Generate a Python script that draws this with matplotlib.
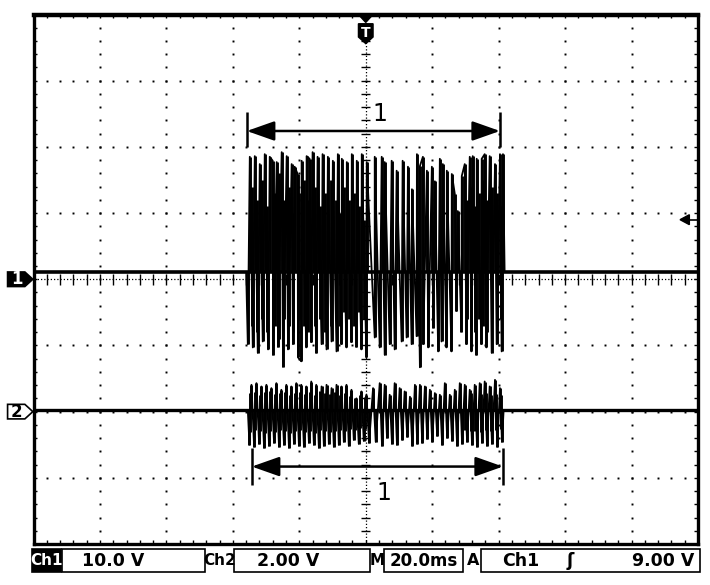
import numpy as np
import matplotlib.pyplot as plt
from matplotlib.patches import Polygon, Rectangle

# scope settings
time_scale = 20.0   # ms/div
ch1_scale = 10.0    # V/div
ch2_scale = 2.0     # V/div
ch1_pos = 0.0       # div
ch2_pos = -2.0      # div
ch1_dc = 1.1        # V
ch2_dc = 0.05       # V
trig_level = 9.0    # V

# ch1 burst, positive spikes (ms, V)
ch1_up_t = [-34.9, -33.4, -31.9, -30.4, -28.9, -28.0, -26.8, -25.3, -23.8, -22.3,
            -21.4, -20.5, -19.3, -17.8, -16.9, -16.0, -14.5, -13.0, -11.4, -9.9,
            -8.4, -7.2, -5.7, -4.2, -2.7, -1.2, 0.3, 2.7, 4.8, 5.7,
            7.8, 9.3, 11.1, 12.7, 13.9, 15.4, 16.3, 17.2, 18.4, 19.9,
            20.8, 22.3, 23.2, 24.4, 25.9, 26.8, 27.7, 28.9, 29.8, 31.3,
            32.2, 33.4, 34.9, 35.8, 37.3, 38.9, 40.4, 41.3]
ch1_up_v = [18.5, 18.6, 17.4, 18.9, 18.5, 17.9, 17.7, 19.2, 18.6, 17.4,
            17.0, 15.9, 17.9, 18.6, 18.2, 19.2, 18.5, 18.9, 18.5, 17.9,
            18.9, 18.2, 17.7, 18.9, 17.9, 18.9, 17.7, 18.5, 18.5, 17.7,
            17.9, 16.4, 17.9, 17.0, 13.6, 18.9, 17.1, 18.5, 16.4, 17.0,
            14.8, 18.2, 17.4, 16.4, 15.9, 12.9, 10.3, 15.6, 17.4, 18.5,
            18.6, 18.2, 18.2, 18.9, 18.6, 17.4, 18.9, 18.9]
# ch1 burst, negative spikes
ch1_dn_t = [-35.5, -34.0, -32.5, -31.0, -29.4, -27.9, -26.4, -24.9, -23.4, -21.9,
            -20.4, -19.4, -17.9, -16.4, -14.9, -13.3, -11.8, -10.3, -8.8, -7.3,
            -5.8, -4.3, -2.8, -1.3, 0.2, 2.7, 4.2, 5.7, 7.2, 8.7,
            10.8, 12.3, 13.8, 15.3, 16.3, 17.3, 18.8, 20.3, 21.8, 22.8,
            24.3, 25.8, 27.3, 28.8, 30.3, 31.8, 33.3, 34.8, 36.3, 37.9,
            39.4, 40.9]
ch1_dn_v = [-9.8, -10.3, -11.1, -9.4, -10.6, -11.4, -10.2, -13.2, -10.6, -9.8,
            -11.8, -12.4, -10.3, -9.5, -11.1, -9.8, -10.6, -9.4, -10.9, -9.8,
            -10.3, -9.5, -10.2, -10.6, -11.8, -8.8, -10.3, -11.4, -9.8, -10.6,
            -9.4, -8.8, -9.8, -8.6, -13.3, -9.8, -10.3, -7.3, -10.9, -9.4,
            -10.3, -10.9, -4.8, -7.9, -9.8, -10.9, -11.4, -9.8, -10.3, -11.1,
            -9.8, -10.9]
# ch1 smaller in-between swings (dense first half and the tail)
ch1_mid_t = [-34.2, -32.6, -31.1, -29.6, -27.4, -26.0, -24.5, -23.0, -21.8, -20.0,
             -18.5, -17.3, -15.2, -13.7, -12.2, -10.6, -9.1, -7.8, -6.4, -5.0,
             -3.4, -2.0, -0.4, 30.6, 31.8, 33.0, 34.2, 35.3, 36.6, 38.1,
             39.6, 40.8]
ch1_mid_hi = [14.0, 12.0, 15.0, 11.0, 13.0, 16.0, 12.0, 14.0, 10.0, 13.0,
              15.0, 12.0, 14.0, 11.0, 13.0, 15.0, 12.0, 10.0, 14.0, 12.0,
              13.0, 11.0, 9.0, 12.0, 14.0, 11.0, 13.0, 15.0, 12.0, 14.0,
              13.0, 11.0]
ch1_mid_lo = [-7.0, -8.0, -6.0, -8.0, -7.0, -9.0, -6.0, -7.0, -8.0, -6.0,
              -7.0, -8.0, -7.0, -6.0, -8.0, -7.0, -6.0, -7.0, -5.0, -6.0,
              -7.0, -5.0, -6.0, -6.0, -7.0, -8.0, -6.0, -7.0, -8.0, -6.0,
              -7.0, -6.0]

# ch2 burst, positive spikes
ch2_up_t = [-34.4, -32.9, -31.4, -29.9, -28.4, -26.9, -25.4, -23.9, -22.4, -20.9,
            -19.4, -17.9, -16.4, -14.9, -13.3, -11.8, -10.3, -8.8, -7.3, -5.8,
            -4.3, -2.8, -1.3, 0.2, 2.2, 4.2, 5.7, 7.2, 8.7, 10.2,
            11.7, 13.3, 14.8, 16.3, 17.8, 19.3, 20.8, 22.3, 23.8, 25.3,
            26.8, 28.3, 29.8, 31.3, 32.8, 34.3, 35.8, 37.3, 38.9, 40.4]
ch2_up_v = [0.81, 0.86, 0.76, 0.81, 0.71, 0.86, 0.66, 0.81, 0.76, 0.86,
            0.81, 0.76, 0.91, 0.81, 0.76, 0.81, 0.71, 0.81, 0.76, 0.81,
            0.66, 0.40, 0.61, 0.51, 0.71, 0.86, 0.81, 0.51, 0.86, 0.71,
            0.61, 0.45, 0.81, 0.81, 0.76, 0.66, 0.56, 0.51, 0.86, 0.51,
            0.66, 0.86, 0.81, 0.66, 0.81, 0.86, 0.91, 0.76, 0.96, 0.71]
# ch2 burst, negative spikes
ch2_dn_t = [-35.0, -33.6, -32.1, -30.6, -29.1, -27.6, -26.1, -24.6, -23.1, -21.6,
            -20.1, -18.6, -17.1, -15.6, -14.1, -12.6, -11.1, -9.6, -8.1, -6.6,
            -5.1, -3.6, -2.1, -0.6, 1.0, 3.0, 4.9, 6.4, 7.9, 9.4,
            11.0, 12.5, 14.0, 15.5, 17.0, 18.5, 20.0, 21.5, 23.0, 24.5,
            26.0, 27.5, 29.0, 30.5, 32.0, 33.5, 35.0, 36.5, 38.0, 39.6,
            41.0]
ch2_dn_v = [-1.00, -1.06, -0.97, -1.09, -1.03, -0.94, -1.06, -1.00, -1.09, -0.97,
            -1.03, -1.06, -0.94, -1.00, -1.09, -1.03, -0.97, -1.06, -1.00, -0.91,
            -1.03, -0.85, -0.97, -0.88, -0.94, -0.91, -1.03, -0.79, -0.97, -1.00,
            -0.85, -0.76, -1.03, -0.97, -0.94, -0.82, -0.91, -0.73, -1.00, -0.79,
            -0.88, -1.03, -0.97, -0.91, -1.00, -1.06, -0.94, -1.03, -0.97, -1.06,
            -0.91]
# ch2 smaller in-between swings
ch2_mid_t = [-34.7, -33.2, -31.8, -30.2, -28.8, -27.2, -25.8, -24.2, -22.8, -21.2,
             -19.8, -18.2, -16.8, -15.2, -13.7, -12.2, -10.7, -9.2, -7.7, -6.2,
             -4.7, -3.2, -1.7, -0.2, 30.0, 31.6, 33.0, 34.6, 36.1, 37.7, 39.2, 40.7]
ch2_mid_hi = [0.55, 0.60, 0.50, 0.58, 0.62, 0.52, 0.57, 0.60, 0.50, 0.56,
              0.60, 0.54, 0.58, 0.50, 0.62, 0.55, 0.52, 0.58, 0.50, 0.55,
              0.48, 0.42, 0.50, 0.45, 0.50, 0.55, 0.58, 0.52, 0.56, 0.50, 0.54, 0.50]
ch2_mid_lo = [-0.62, -0.55, -0.60, -0.66, -0.58, -0.62, -0.55, -0.60, -0.64, -0.58,
              -0.55, -0.62, -0.60, -0.66, -0.56, -0.60, -0.62, -0.58, -0.55, -0.60,
              -0.52, -0.55, -0.50, -0.52, -0.55, -0.60, -0.58, -0.62, -0.55, -0.60,
              -0.56, -0.52]

# cursor 1 (ms)
cursor_top_t = [-35.8, 40.4]
cursor_bot_t = [-34.3, 41.3]


def tx(t):
    return (np.asarray(t, dtype=float) + 5 * time_scale) / time_scale


def y1(v):
    return ch1_pos + np.asarray(v, dtype=float) / ch1_scale


def y2(v):
    return ch2_pos + np.asarray(v, dtype=float) / ch2_scale


def trace(up_t, up_v, dn_t, dn_v, dc):
    # one waveform through every peak, in time order
    pts = sorted(list(zip(up_t, up_v)) + list(zip(dn_t, dn_v)))
    t = [-100.0, pts[0][0] - 0.5] + [p[0] for p in pts] + [pts[-1][0] + 0.5, 100.0]
    v = [dc, dc] + [p[1] for p in pts] + [dc, dc]
    return t, v


fig = plt.figure(figsize=(7.1, 5.85), dpi=100)
ax = fig.add_axes([33.5 / 710, 41 / 585, 664.5 / 710, 529.5 / 585])
ax.set_xlim(0, 10)
ax.set_ylim(-4, 4)
ax.set_xticks([])
ax.set_yticks([])
for s in ax.spines.values():
    s.set_linewidth(2.4)
ax.spines['top'].set_linewidth(3.2)

# graticule dots
ys = np.arange(-4, 4.001, 0.2)
xs = np.arange(0, 10.001, 0.2)
for xi in range(1, 10):
    if xi != 5:
        ax.plot(np.full(len(ys), xi), ys, ls='none', marker='s', ms=1.4, mew=0, color='k')
for yi in range(-3, 4):
    if yi != 0:
        ax.plot(xs, np.full(len(xs), yi), ls='none', marker='s', ms=1.4, mew=0, color='k')

# border ticks
bt = np.arange(0.2, 10, 0.2)
bl = np.arange(-3.8, 4, 0.2)
ax.vlines(bt, 3.94, 4, color='k', lw=1)
ax.vlines(bt, -4, -3.94, color='k', lw=1)
ax.hlines(bl, 0, 0.06, color='k', lw=1)
ax.hlines(bl, 9.94, 10, color='k', lw=1)

# centre cross
ax.plot([5, 5], [-4, 4], color='k', lw=0.9, ls=(0, (1, 1.6)))
ax.plot([0, 10], [0, 0], color='k', lw=0.9, ls=(0, (1, 1.6)))
ax.hlines(bl, 4.93, 5.07, color='k', lw=1)
ax.vlines(bt, -0.08, 0.08, color='k', lw=1)

# channel 1
base1 = float(y1(ch1_dc))
ax.plot([0, 10], [base1, base1], color='k', lw=2.6)
t1, v1 = trace(ch1_up_t, ch1_up_v, ch1_dn_t, ch1_dn_v, ch1_dc)
ax.plot(tx(t1), y1(v1), color='k', lw=1.3)
ax.vlines(tx(ch1_up_t), base1, y1(ch1_up_v), color='k', lw=2.1)
ax.vlines(tx(ch1_dn_t), y1(ch1_dn_v), base1, color='k', lw=2.1)
ax.vlines(tx(ch1_mid_t), y1(ch1_mid_lo), y1(ch1_mid_hi), color='k', lw=2.1)

# channel 2
base2 = float(y2(ch2_dc))
ax.plot([0, 10], [base2, base2], color='k', lw=2.4)
t2, v2 = trace(ch2_up_t, ch2_up_v, ch2_dn_t, ch2_dn_v, ch2_dc)
ax.plot(tx(t2), y2(v2), color='k', lw=1.3)
ax.vlines(tx(ch2_up_t), base2, y2(ch2_up_v), color='k', lw=2.1)
ax.vlines(tx(ch2_dn_t), y2(ch2_dn_v), base2, color='k', lw=2.1)
ax.vlines(tx(ch2_mid_t), y2(ch2_mid_lo), y2(ch2_mid_hi), color='k', lw=2.1)

# cursors
arrow = dict(arrowstyle='<|-|>,head_length=0.85,head_width=0.3', color='k',
             lw=1.8, shrinkA=0, shrinkB=0, mutation_scale=20)
for ct, ya, yb, ylab in [(cursor_top_t, 2.24, (2.0, 2.53), 2.5),
                         (cursor_bot_t, -2.83, (-3.11, -2.55), -3.23)]:
    xa, xb = tx(ct)
    ax.annotate('', xy=(xb, ya), xytext=(xa, ya), arrowprops=arrow)
    ax.vlines([xa, xb], yb[0], yb[1], color='k', lw=1.8)
    ax.text((xa + xb) / 2 + 0.1, ylab, '1', fontsize=17, ha='center', va='center')

# trigger position marker
tp = float(tx(0))
ax.add_patch(Polygon([[tp - 0.11, 4], [tp + 0.11, 4], [tp, 3.88]], closed=True,
                     color='k', clip_on=False))
ax.add_patch(Polygon([[tp - 0.11, 3.86], [tp + 0.11, 3.86], [tp + 0.11, 3.66],
                      [tp, 3.56], [tp - 0.11, 3.66]], closed=True, color='k'))
ax.text(tp, 3.72, 'T', color='white', fontsize=10, fontweight='bold', ha='center', va='center')

# trigger level marker
tl = float(y1(trig_level))
ax.add_patch(Polygon([[9.73, tl], [9.87, tl + 0.075], [9.87, tl - 0.075]], closed=True, color='k'))
ax.plot([9.87, 10], [tl, tl], color='k', lw=1.2)

# channel ground markers
for pos, lab, fc, tc in [(ch1_pos, '1', 'k', 'white'), (ch2_pos, '2', 'white', 'k')]:
    pts = [[-0.39, pos + 0.11], [-0.13, pos + 0.11], [-0.01, pos],
           [-0.13, pos - 0.11], [-0.39, pos - 0.11]]
    ax.add_patch(Polygon(pts, closed=True, facecolor=fc, edgecolor='k', lw=1.2, clip_on=False))
    ax.text(-0.25, pos, lab, color=tc, fontsize=12, fontweight='bold',
            ha='center', va='center', clip_on=False)

# status bar
W, H = 710.0, 585.0
by0, by1 = 1 - 572 / H, 1 - 549 / H
ty = 1 - 560.5 / H


def box(x0, x1, fc='white'):
    fig.add_artist(Rectangle((x0 / W, by0), (x1 - x0) / W, by1 - by0,
                             facecolor=fc, edgecolor='k', lw=1.2, transform=fig.transFigure))


def label(x, s, color='k', ha='center', size=12.5):
    fig.text(x / W, ty, s, color=color, fontsize=size, ha=ha, va='center',
             family='DejaVu Sans', fontweight='bold')


box(32, 61, fc='k')
label(46.5, 'Ch1', color='white', size=11)
box(62, 205)
label(113, f'{ch1_scale:.1f} V')
label(220, 'Ch2', size=11)
box(234, 370)
label(288, f'{ch2_scale:.2f} V')
label(377.5, 'M', size=11)
box(384, 463)
label(423.5, f'{time_scale:.1f}ms', size=12)
label(473, 'A', size=11.5)
box(481, 700)
label(521, 'Ch1')
label(570, '\u0283')
label(694, f'{trig_level:.2f} V', ha='right')

fig.savefig('out.png', dpi=100)
